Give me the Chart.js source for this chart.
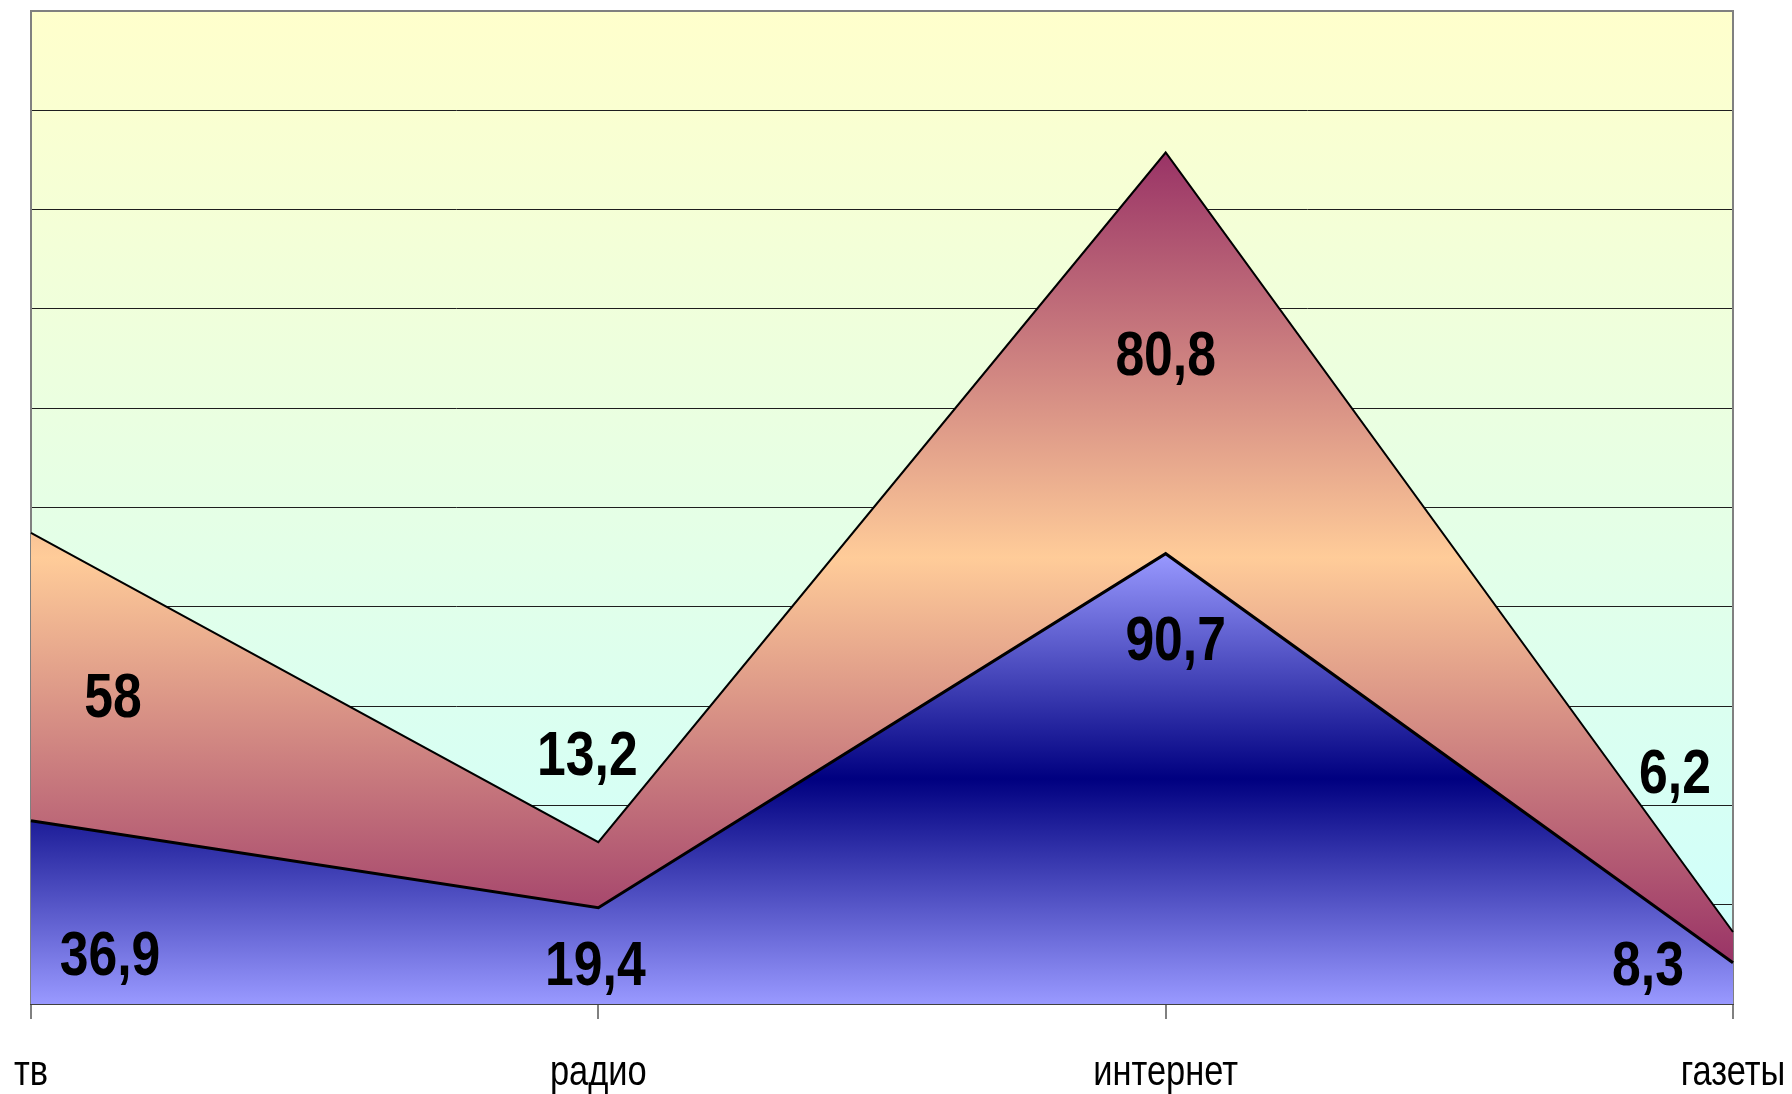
<!DOCTYPE html>
<html lang="ru">
	<head>
		<meta charset="UTF-8" />
		<title>тв / радио / интернет / газеты</title>
		<style>
			html, body { margin: 0; padding: 0; background: #fff; }
			#wrap { width: 1792px; height: 1094px; position: relative; }
		</style>
	</head>

	<body>
		<div id="wrap"><canvas id="myChart"></canvas></div>

		<script src="https://cdn.jsdelivr.net/npm/chart.js@4.4.1/dist/chart.umd.min.js"></script>
		<script>
			// data
			var categories = ["тв", "радио", "интернет", "газеты"];
			var lowerSeries = [36.9, 19.4, 90.7, 8.3];
			var upperSeries = [58, 13.2, 80.8, 6.2];
			var yMax = 200;
			var yStep = 20;

			// no Arial Narrow here, so Liberation Sans squeezed sideways stands in for it
			var textFont = '"Liberation Sans", Arial, sans-serif';
			var squeeze = 0.82;

			function narrowText(c, text, x, y) {
				c.save();
				c.translate(x, y);
				c.scale(squeeze, 1);
				c.fillText(text, 0, 0);
				c.restore();
			}

			// vertical gradient between two value levels, mirrored around the middle
			function mirrorGradient(chart, topValue, bottomValue, edge, middle) {
				var y = chart.scales.y;
				var g = chart.ctx.createLinearGradient(0, y.getPixelForValue(topValue), 0, y.getPixelForValue(bottomValue));
				g.addColorStop(0, edge);
				g.addColorStop(0.5, middle);
				g.addColorStop(1, edge);
				return g;
			}

			var plotBackground = {
				id: "plotBackground",
				beforeDraw: function (chart) {
					var a = chart.chartArea;
					var c = chart.ctx;
					var g = c.createLinearGradient(0, a.top, 0, a.bottom);
					g.addColorStop(0, "#FFFFCC");
					g.addColorStop(1, "#CCFFFF");
					c.save();
					c.fillStyle = g;
					c.fillRect(a.left, a.top, a.right - a.left, a.bottom - a.top);
					c.restore();
				},
				beforeDatasetsDraw: function (chart) {
					var a = chart.chartArea;
					var c = chart.ctx;
					c.save();
					c.strokeStyle = "#808080";
					c.lineWidth = 2;
					c.beginPath();
					c.moveTo(a.left, a.bottom);
					c.lineTo(a.left, a.top);
					c.lineTo(a.right, a.top);
					c.lineTo(a.right, a.bottom);
					c.stroke();
					c.restore();
				},
			};

			// category names under the tick marks
			var categoryLabels = {
				id: "categoryLabels",
				afterDraw: function (chart) {
					var c = chart.ctx;
					var xs = chart.scales.x;
					c.save();
					c.font = "42px " + textFont;
					c.fillStyle = "#000";
					c.textAlign = "center";
					c.textBaseline = "alphabetic";
					chart.data.labels.forEach(function (name, i) {
						narrowText(c, name, xs.getPixelForValue(i), chart.chartArea.bottom + 81);
					});
					c.restore();
				},
			};

			// value labels, nudged from the point like in the original
			var labelShift = [
				[[79, 132], [-3, 55], [10, 84], [-85, 0]],
				[[82, 162], [-11, -90], [0, 200], [-58, -162]],
			];
			var valueLabels = {
				id: "valueLabels",
				afterDatasetsDraw: function (chart) {
					var c = chart.ctx;
					var xs = chart.scales.x;
					var ys = chart.scales.y;
					var size = 63;
					c.save();
					c.font = "bold " + size + "px " + textFont;
					c.fillStyle = "#000";
					c.textAlign = "center";
					c.textBaseline = "alphabetic";
					chart.data.datasets.forEach(function (ds, i) {
						ds.data.forEach(function (v, j) {
							var top = 0;
							for (var k = 0; k <= i; k++) top += chart.data.datasets[k].data[j];
							var x = xs.getPixelForValue(j) + labelShift[i][j][0];
							var y = ys.getPixelForValue(top) + labelShift[i][j][1] + 0.358 * size;
							narrowText(c, String(v).replace(".", ","), x, y);
						});
					});
					c.restore();
				},
			};

			var lowerTop = Math.max.apply(null, lowerSeries);
			var sums = lowerSeries.map(function (v, i) { return v + upperSeries[i]; });

			var ctx = document.getElementById("myChart").getContext("2d");
			var chart = new Chart(ctx, {
				type: "line",
				data: {
					labels: categories,
					datasets: [
						{
							data: lowerSeries,
							fill: "origin",
							borderColor: "#000",
							borderWidth: 3,
							pointRadius: 0,
							tension: 0,
							backgroundColor: function (context) {
								if (!context.chart.chartArea) return "#9999FF";
								return mirrorGradient(context.chart, lowerTop, 0, "#9999FF", "#000080");
							},
						},
						{
							data: upperSeries,
							fill: "-1",
							borderColor: "#000",
							borderWidth: 2,
							pointRadius: 0,
							tension: 0,
							backgroundColor: function (context) {
								if (!context.chart.chartArea) return "#FFCC99";
								return mirrorGradient(context.chart, Math.max.apply(null, sums), Math.min.apply(null, lowerSeries), "#993366", "#FFCC99");
							},
						},
					],
				},
				options: {
					responsive: true,
					maintainAspectRatio: false,
					animation: false,
					layout: { padding: { top: 11, left: 31, right: 59, bottom: 75 } },
					plugins: {
						legend: { display: false },
						tooltip: { enabled: false },
					},
					scales: {
						x: {
							offset: false,
							grid: { drawOnChartArea: false, tickLength: 15, color: "#808080", lineWidth: 2 },
							border: { color: "#404040", width: 2 },
							ticks: { display: false },
						},
						y: {
							stacked: true,
							min: 0,
							max: yMax,
							ticks: { display: false, stepSize: yStep },
							grid: { color: "#1e1e1e", lineWidth: 1, drawTicks: false },
							border: { display: false },
						},
					},
				},
				plugins: [plotBackground, categoryLabels, valueLabels],
			});
		</script>
	</body>
</html>
